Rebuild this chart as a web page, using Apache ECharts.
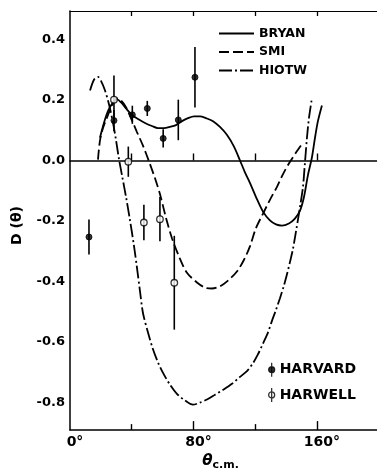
<!DOCTYPE html>
<html><head><meta charset="utf-8">
<script src="https://cdn.jsdelivr.net/npm/echarts@6/dist/echarts.min.js"></script>
<style>html,body{margin:0;padding:0;background:#fff}#c{width:377px;height:476px}</style>
</head><body><div id="c"></div>
<script>
const FONT = 'DejaVu Sans';
const xMajorTicks = [80, 160];
const xMinorTicks = [40, 120];
const xTicks = [40, 80, 120, 160];
const xLabels = [0, 80, 160];
const yLabels = [-0.8, -0.6, -0.4, -0.2, 0.0, 0.2, 0.4];

const bryanTheta = [19.4,22.0,24.6,27.9,30.5,33.1,36.3,40.2,44.1,48.6,53.1,57.0,60.9,64.8,68.7,72.6,76.5,80.4,84.3,88.1,92.7,97.2,101.7,106.3,110.2,113.4,116.7,120.5,125.1,129.6,133.5,137.4,141.9,145.8,149.1,151.7,154.2,156.8,158.8,160.7,163.3];
const bryanD = [0.075,0.124,0.163,0.192,0.202,0.192,0.172,0.150,0.137,0.124,0.114,0.107,0.107,0.111,0.117,0.130,0.140,0.146,0.146,0.140,0.130,0.111,0.085,0.046,0.000,-0.039,-0.075,-0.120,-0.169,-0.198,-0.211,-0.215,-0.208,-0.192,-0.166,-0.120,-0.049,0.010,0.075,0.130,0.182];

const smiTheta = [18.15,19.4,21.4,24.6,27.9,30.5,33.1,36.3,39.5,43.4,47.3,51.2,55.1,58.3,62.2,66.1,71.3,75.8,82.3,87.5,92.0,97.2,102.4,108.2,112.8,116.7,120.5,125.1,129.6,134.1,138.0,141.9,146.5,151.0];
const smiD = [0.003,0.065,0.107,0.150,0.189,0.205,0.198,0.176,0.140,0.094,0.049,-0.003,-0.059,-0.111,-0.189,-0.257,-0.325,-0.371,-0.403,-0.420,-0.423,-0.416,-0.397,-0.367,-0.328,-0.283,-0.224,-0.176,-0.130,-0.088,-0.046,-0.010,0.026,0.059];

const hiotwTheta = [13.0,15.55,18.15,20.1,22.7,25.3,27.9,29.8,31.8,33.7,36.3,38.9,41.5,43.4,45.4,47.3,50.6,53.8,57.0,60.3,64.8,69.3,74.5,79.7,84.3,88.8,94.0,99.2,105.0,110.2,114.7,118.6,121.8,125.1,128.3,130.9,133.5,136.1,138.7,140.6,142.6,144.5,146.5,149.1,151.0,152.3,153.6,154.9,156.8];
const hiotwD = [0.231,0.267,0.276,0.263,0.231,0.185,0.124,0.068,0.003,-0.049,-0.120,-0.198,-0.283,-0.354,-0.433,-0.504,-0.569,-0.624,-0.667,-0.702,-0.741,-0.771,-0.793,-0.807,-0.800,-0.790,-0.774,-0.758,-0.738,-0.715,-0.696,-0.670,-0.641,-0.605,-0.569,-0.530,-0.494,-0.455,-0.413,-0.377,-0.335,-0.293,-0.234,-0.153,-0.088,-0.007,0.075,0.140,0.205];

const harvardTheta = [12.3, 28.5, 40.4, 50.1, 60.4, 70.2, 81.0];
const harvardD = [-0.253, 0.132, 0.151, 0.172, 0.073, 0.134, 0.275];
const harvardErr = [0.058, 0.035, 0.030, 0.025, 0.030, 0.067, 0.100];

const harwellTheta = [28.5, 37.8, 47.9, 58.3, 67.6];
const harwellD = [0.201, -0.004, -0.205, -0.194, -0.404];
const harwellErr = [0.080, 0.050, 0.059, 0.073, 0.155];

const zip = (a, b) => a.map((v, i) => [v, b[i]]);
const errData = (t, d, e) => t.map((v, i) => [v, d[i] - e[i], d[i] + e[i]]);

const chart = echarts.init(document.getElementById('c'), null, {renderer: 'canvas'});
const ICON = 'path://M3,0L3,14M0,7A3,3,0,1,1,6,7A3,3,0,1,1,0,7Z';

function errSeries(name, data) {
  return {
    type: 'custom', name: name, data: data, z: 3, silent: true,
    encode: {x: 0, y: [1, 2]},
    renderItem: function (params, api) {
      const p1 = api.coord([api.value(0), api.value(1)]);
      const p2 = api.coord([api.value(0), api.value(2)]);
      return {type: 'line', shape: {x1: p1[0], y1: p1[1], x2: p2[0], y2: p2[1]},
        style: {stroke: '#000', lineWidth: 1.6}};
    }
  };
}

const lineBase = {type: 'line', showSymbol: false, symbol: 'none', smooth: 0.3, z: 2, silent: true};
const hiddenAxis = {type: 'value', min: 0, max: 199, axisLabel: {show: false}, splitLine: {show: false}};

chart.setOption({
  backgroundColor: '#fff',
  animation: false,
  textStyle: {fontFamily: FONT, color: '#000'},
  grid: {left: 70, right: 0, top: 11, bottom: 39, containLabel: false},
  legend: [
    {
      data: ['BRYAN', 'SMI', 'HIOTW'],
      orient: 'vertical', left: 218, top: 27, padding: 0,
      itemWidth: 35, itemHeight: 10, itemGap: 5.5,
      selectedMode: false,
      itemStyle: {opacity: 0},
      textStyle: {fontFamily: FONT, fontSize: 12.5, fontWeight: 'bold', color: '#000'}
    },
    {
      data: [
        {name: 'HARVARD', icon: ICON, itemStyle: {color: '#000', borderColor: '#000', borderWidth: 1.3}},
        {name: 'HARWELL', icon: ICON, itemStyle: {color: '#fff', borderColor: '#000', borderWidth: 1.3}}
      ],
      orient: 'vertical', left: 268, top: 362, padding: 0,
      itemWidth: 6, itemHeight: 14, itemGap: 10,
      selectedMode: false,
      textStyle: {fontFamily: FONT, fontSize: 14, fontWeight: 'bold', color: '#000'}
    }
  ],
  xAxis: [
    {
      type: 'value', min: 0, max: 199, position: 'bottom',
      name: '{t|θ}{s|c.m.}', nameLocation: 'middle', nameGap: 21,
      nameTextStyle: {padding: [0, 6, 0, 0], rich: {
        t: {fontFamily: FONT, fontSize: 15, fontWeight: 'bold', fontStyle: 'italic', color: '#000'},
        s: {fontFamily: FONT, fontSize: 11, fontWeight: 'bold', color: '#000', padding: [8, 0, 0, 0]}
      }},
      axisLine: {onZero: false, lineStyle: {color: '#000', width: 1.5}},
      axisTick: {inside: true, length: 9, customValues: xMajorTicks, lineStyle: {color: '#000', width: 1.4}},
      axisLabel: {customValues: xLabels, formatter: v => v + '°', margin: 5, padding: [0, 0, 0, 10],
        fontFamily: FONT, fontSize: 14, fontWeight: 'bold', color: '#000'},
      splitLine: {show: false}
    },
    Object.assign({}, hiddenAxis, {
      position: 'top',
      axisLine: {onZero: false, lineStyle: {color: '#000', width: 1.2}},
      axisTick: {inside: true, length: 5, customValues: xTicks, lineStyle: {color: '#000', width: 1.3}}
    }),
    Object.assign({}, hiddenAxis, {
      position: 'bottom',
      axisLine: {onZero: true, onZeroAxisIndex: 0, lineStyle: {color: '#000', width: 1.5}},
      axisTick: {inside: true, length: 7, customValues: xTicks, lineStyle: {color: '#000', width: 1.4}}
    }),
    Object.assign({}, hiddenAxis, {
      position: 'bottom',
      axisLine: {show: false, onZero: false},
      axisTick: {inside: true, length: 6, customValues: xMinorTicks, lineStyle: {color: '#000', width: 1.4}}
    })
  ],
  yAxis: [{
    type: 'value', min: -0.891, max: 0.494,
    name: 'D (θ)', nameLocation: 'middle', nameGap: 46, nameRotate: 90,
    nameTextStyle: {fontFamily: FONT, fontSize: 14, fontWeight: 'bold', color: '#000', padding: [0, 10, 0, 0]},
    axisLine: {show: true, onZero: false, lineStyle: {color: '#000', width: 1.5}},
    axisTick: {show: false},
    axisLabel: {customValues: yLabels, formatter: v => v.toFixed(1), margin: 5,
      fontFamily: FONT, fontSize: 13, fontWeight: 'bold', color: '#000'},
    splitLine: {show: false}
  }],
  series: [
    Object.assign({}, lineBase, {name: 'BRYAN', data: zip(bryanTheta, bryanD),
      lineStyle: {color: '#000', width: 1.8, type: 'solid'}, itemStyle: {color: '#000'}}),
    Object.assign({}, lineBase, {name: 'SMI', data: zip(smiTheta, smiD),
      lineStyle: {color: '#000', width: 1.8, type: [10, 4]}, itemStyle: {color: '#000'}}),
    Object.assign({}, lineBase, {name: 'HIOTW', data: zip(hiotwTheta, hiotwD),
      lineStyle: {color: '#000', width: 1.8, type: [13, 3, 2, 3]}, itemStyle: {color: '#000'}}),
    errSeries('HARVARD-err', errData(harvardTheta, harvardD, harvardErr)),
    errSeries('HARWELL-err', errData(harwellTheta, harwellD, harwellErr)),
    {type: 'scatter', name: 'HARVARD', data: zip(harvardTheta, harvardD), symbol: 'circle', symbolSize: 6, z: 5,
      itemStyle: {color: '#000', borderColor: '#000', borderWidth: 1}},
    {type: 'scatter', name: 'HARWELL', data: zip(harwellTheta, harwellD), symbol: 'circle', symbolSize: 6.5, z: 5,
      itemStyle: {color: '#fff', borderColor: '#000', borderWidth: 1.3}}
  ]
});
</script>
</body></html>
